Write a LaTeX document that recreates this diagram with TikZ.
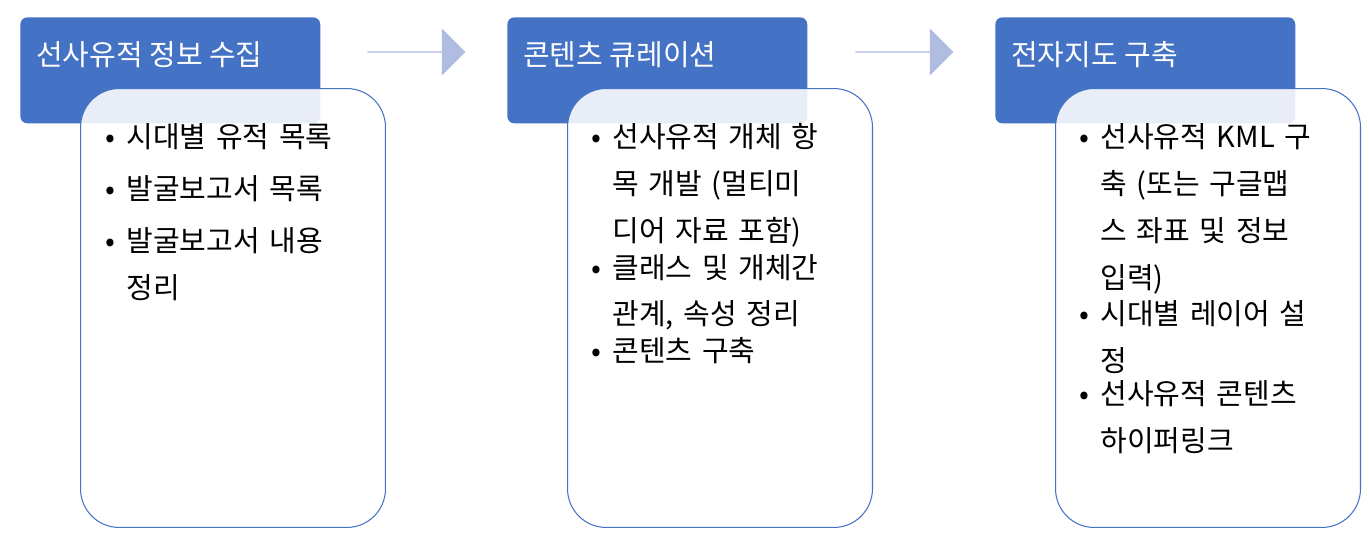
\documentclass[tikz,border=0pt]{standalone}
\usepackage{fontspec}
\setmainfont{Noto Sans CJK KR}
\usetikzlibrary{positioning, shapes.arrows}
\definecolor{hdblue}{RGB}{68,114,196}
\definecolor{arblue}{RGB}{176,188,224}
\newcommand{\itm}[1]{\makebox[12pt][l]{\textbullet}\parbox[t]{4.6cm}{#1}\par\vspace{3pt}}
\begin{document}
\begin{tikzpicture}[x=0.02cm, y=-0.02cm,
  head/.style={rectangle, rounded corners=4pt, fill=hdblue, text=white,
               minimum width=6cm, minimum height=2.12cm, anchor=north west,
               font=\fontsize{16}{20}\selectfont, inner sep=0pt},
  body/.style={rectangle, rounded corners=22pt, draw=hdblue, semithick,
               fill=white, fill opacity=0.88, text opacity=1,
               minimum width=6.1cm, minimum height=8.78cm, anchor=north west},
  txt/.style={anchor=north west, text width=5.5cm, align=left,
              font=\fontsize{16.5}{26.7}\selectfont, inner sep=0pt},
  flow/.style={single arrow, fill=arblue, minimum height=1.96cm,
               single arrow head extend=0.3cm, single arrow tip angle=90,
               minimum width=0.94cm, inner sep=0pt, anchor=west}]
  \useasboundingbox (0,0) rectangle (1369,542);

  % Headers
  \node[head] (h1) at (20,17) {};
  \node[head] (h2) at (507,17) {};
  \node[head] (h3) at (995,17) {};
  \node[anchor=west, text=white, font=\fontsize{16.5}{20}\selectfont] (t1) at (30,55) {선사유적 정보 수집};
  \node[anchor=west, text=white, font=\fontsize{16.5}{20}\selectfont] (t2) at (517,55) {콘텐츠 큐레이션};
  \node[anchor=west, text=white, font=\fontsize{16.5}{20}\selectfont] (t3) at (1005,55) {전자지도 구축};

  % Bodies
  \node[body] (b1) at (80,88) {};
  \node[body] (b2) at (567,88) {};
  \node[body] (b3) at (1055,88) {};

  % Arrows
  \node[flow] (a1) at (367,52) {};
  \node[flow] (a2) at (855,52) {};

  % Lists
  \node[txt] (l1) at (105,123) {\itm{시대별 유적 목록}\itm{발굴보고서 목록}\itm{발굴보고서 내용\\정리}};
  \node[txt] (l2) at (591,123) {\itm{선사유적 개체 항\\목 개발 (멀티미\\디어 자료 포함)}\itm{클래스 및 개체간\\관계, 속성 정리}\itm{콘텐츠 구축}};
  \node[txt] (l3) at (1079,123) {\itm{선사유적 KML 구\\축 (또는 구글맵\\스 좌표 및 정보\\입력)}\itm{시대별 레이어 설\\정}\itm{선사유적 콘텐츠\\하이퍼링크}};
\end{tikzpicture}
\end{document}
